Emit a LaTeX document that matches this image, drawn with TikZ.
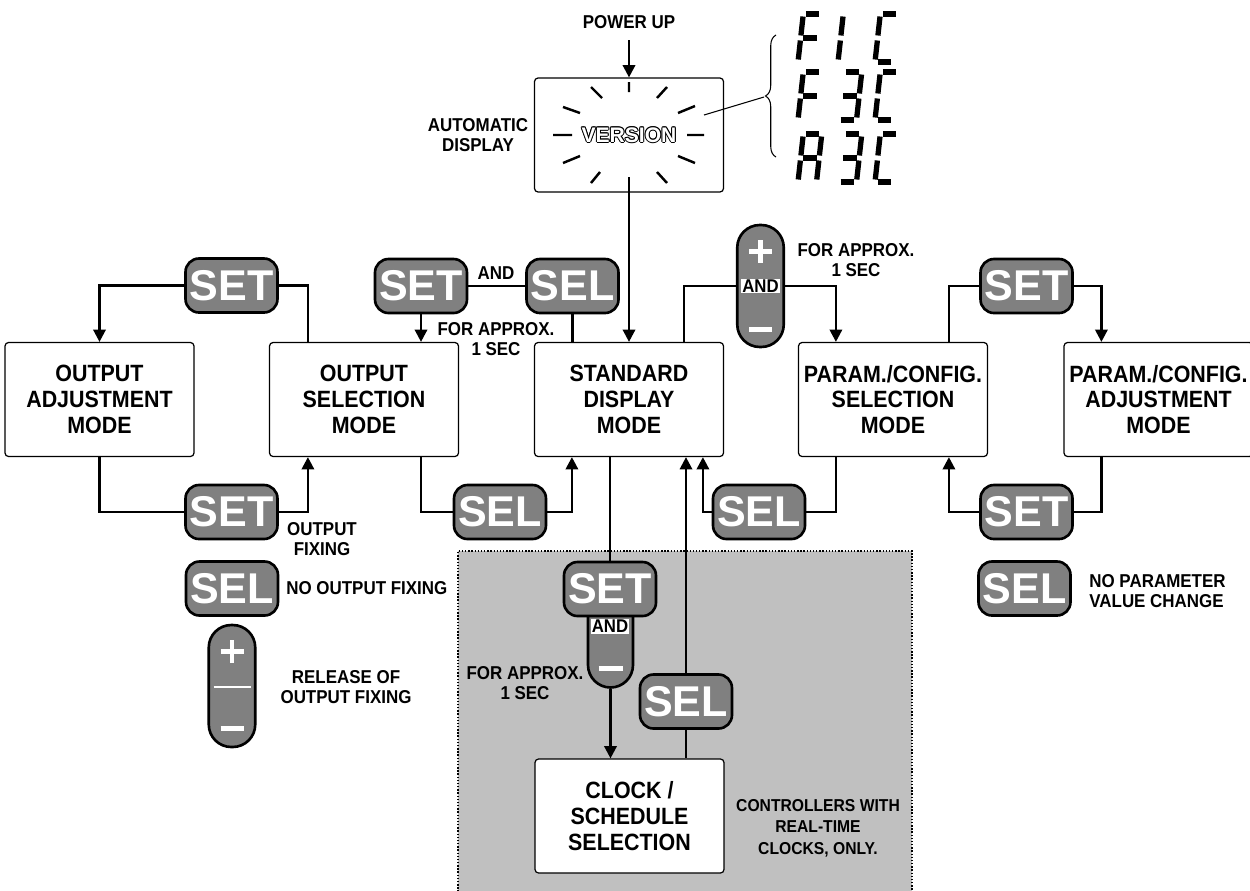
\documentclass[tikz,border=0pt]{standalone}
\usepackage{fontspec}
\setmainfont{Liberation Sans}
\newfontfamily\condfam[FakeStretch=0.91]{Liberation Sans}
\usetikzlibrary{arrows.meta,calc,decorations.pathreplacing}
\definecolor{btngray}{HTML}{808080}
\definecolor{zonegray}{HTML}{C0C0C0}
\newcommand\bxfont{\condfam\bfseries\fontsize{13.4}{14.7}\selectfont}
\newcommand\lbfont{\condfam\bfseries\fontsize{10.6}{11.4}\selectfont}
\newcommand\ctfont{\condfam\bfseries\fontsize{9.8}{12.2}\selectfont}
\newcommand\btfont{\bfseries\fontsize{24.5}{24.5}\selectfont}
\newcommand\andfont{\condfam\bfseries\fontsize{10.5}{10.5}\selectfont}
\newcommand\vsfont{\bfseries\fontsize{12}{12}\selectfont}
\newcommand\lcd[6]{\draw[lcdseg] ({#1+(#3)+0.11*(#4)},{#2-(#4)}) -- ({#1+(#5)+0.11*(#6)},{#2-(#6)});}
\newcommand\lcdA[2]{\lcd{#1}{#2}{2.5}{48}{16}{48}}
\newcommand\lcdB[2]{\lcd{#1}{#2}{18.5}{45.5}{18.5}{26.5}}
\newcommand\lcdC[2]{\lcd{#1}{#2}{18.5}{21.5}{18.5}{2.5}}
\newcommand\lcdD[2]{\lcd{#1}{#2}{2.5}{0}{16}{0}}
\newcommand\lcdE[2]{\lcd{#1}{#2}{0}{21.5}{0}{2.5}}
\newcommand\lcdF[2]{\lcd{#1}{#2}{0}{45.5}{0}{26.5}}
\newcommand\lcdG[2]{\lcd{#1}{#2}{2.5}{24}{16}{24}}
\newcommand\chrF[2]{\lcdA{#1}{#2}\lcdF{#1}{#2}\lcdE{#1}{#2}\lcdG{#1}{#2}}
\newcommand\chrOne[2]{\lcdE{#1}{#2}\lcdF{#1}{#2}}
\newcommand\chrC[2]{\lcdA{#1}{#2}\lcdF{#1}{#2}\lcdE{#1}{#2}\lcdD{#1}{#2}}
\newcommand\chrThree[2]{\lcdA{#1}{#2}\lcdB{#1}{#2}\lcdC{#1}{#2}\lcdD{#1}{#2}\lcdG{#1}{#2}}
\newcommand\chrA[2]{\lcdA{#1}{#2}\lcdB{#1}{#2}\lcdC{#1}{#2}\lcdE{#1}{#2}\lcdF{#1}{#2}\lcdG{#1}{#2}}
\tikzset{
  conn/.style={line width=1.4pt},
  arrowconn/.style={line width=1.4pt,-{Triangle[width=7pt,length=7pt]}},
  modebox/.style={draw,line width=0.7pt,rounded corners=2pt,fill=white,minimum width=3.78cm,minimum height=2.28cm,align=center,inner sep=0pt,font=\bxfont},
  keybtn/.style={draw,line width=1.5pt,fill=btngray,rounded corners=0.27cm,minimum width=1.84cm,minimum height=1.08cm,inner sep=0pt,text=white,font=\btfont},
  pmbtn/.style={draw,line width=1.5pt,fill=btngray,rounded corners=0.45cm,minimum width=0.93cm,minimum height=2.44cm,inner sep=0pt},
  lbl/.style={align=center,inner sep=0pt,font=\lbfont},
  andlbl/.style={fill=white,inner sep=0.6pt,font=\andfont},
  rayline/.style={line width=1.4pt},
  lcdseg/.style={line width=3pt},
  signline/.style={white,line width=2.8pt},
}
\begin{document}
\begin{tikzpicture}[x=0.02cm,y=-0.02cm]
\useasboundingbox (0,0) rectangle (1250,890);
% shaded zone
\fill[zonegray] (458,551) rectangle (912,895);
\draw[densely dotted,line width=0.8pt] (458,895) |- (912,551) -- (912,895);

% mode boxes
\node[modebox] (ver) at (629,135) {};
\node[modebox] (oa) at (99.5,399.5) {OUTPUT\\ADJUSTMENT\\MODE};
\node[modebox] (os) at (364,399.5) {OUTPUT\\SELECTION\\MODE};
\node[modebox] (std) at (629,399.5) {STANDARD\\DISPLAY\\MODE};
\node[modebox] (ps) at (893,399.5) {PARAM./CONFIG.\\SELECTION\\MODE};
\node[modebox] (pa) at (1158.5,399.5) {PARAM./CONFIG.\\ADJUSTMENT\\MODE};
\node[modebox] (clk) at (629.5,816) {CLOCK /\\SCHEDULE\\SELECTION};

% version display
\foreach \dx/\dy [count=\k] in {1/0,-1/0,0/1,0/-1,0.7/0.7,-0.7/0.7,0.7/-0.7,-0.7/-0.7}
  \node[font=\vsfont,inner sep=0pt] (vo\k) at ($(ver.center)+(\dx,\dy)$) {VERSION};
\node[font=\vsfont,text=white,inner sep=0pt] (vtxt) at (ver.center) {VERSION};
\draw[rayline] (629,82)--(629,92) (553,135)--(572,135) (687,135)--(704,135)
  (591,87)--(602,98) (563,107)--(580,113) (657,98)--(667,87) (678,113)--(695,106)
  (563,163)--(580,156) (591,183)--(600,172) (678,156)--(695,163) (657,172)--(667,183);
\coordinate (vb) at (629,177);
\coordinate (pu) at (629,40);
\coordinate (rr) at (704,115);
\coordinate (bt) at (764,97);
\draw[line width=0.6pt,decorate,decoration={brace,amplitude=6pt}] (776,157) -- (776,35);
\draw[line width=0.6pt] (rr) -- (bt);
% seven segment codes
\chrF{798}{62}\chrOne{838}{62}\chrC{875}{62}
\chrF{798}{120}\chrThree{838}{120}\chrC{875}{120}
\chrA{798}{182}\chrThree{838}{182}\chrC{875}{182}

% keys
\node[keybtn] (set1) at (231.5,285.5) {SET};
\node[keybtn] (set2) at (231.5,512) {SET};
\node[keybtn] (set3) at (421,286) {SET};
\node[keybtn] (sel3) at (572.5,286) {SEL};
\node[keybtn] (sel4) at (500,512) {SEL};
\node[keybtn] (sel5) at (759,512) {SEL};
\node[keybtn] (set6) at (1026.5,286) {SET};
\node[keybtn] (set7) at (1026.5,512) {SET};
\node[keybtn] (sel8) at (232,588.5) {SEL};
\node[keybtn] (sel9) at (1024.5,588.5) {SEL};
\node[pmbtn,minimum width=0.9cm,minimum height=1.9cm] (ext) at (610.5,640) {};
\node[keybtn] (setg) at (610,589) {SET};
\node[keybtn] (selg) at (686,701.5) {SEL};
\node[pmbtn] (pm1) at (760.5,286) {};
\node[pmbtn] (pm2) at (232,686) {};

% plus / minus signs
\draw[signline] ($(pm1.north)+(-11.5,28)$) -- ($(pm1.north)+(11.5,28)$)
  ($(pm1.north)+(0,16.5)$) -- ($(pm1.north)+(0,39.5)$);
\draw[signline] ($(pm1.south)+(-11.5,-19)$) -- ($(pm1.south)+(11.5,-19)$);
\draw[signline] ($(pm2.north)+(-11.5,28)$) -- ($(pm2.north)+(11.5,28)$)
  ($(pm2.north)+(0,16.5)$) -- ($(pm2.north)+(0,39.5)$);
\draw[white,line width=0.9pt] ($(pm2.center)+(-18.5,1)$) -- ($(pm2.center)+(18.5,1)$);
\draw[signline] ($(pm2.south)+(-11.5,-20)$) -- ($(pm2.south)+(11.5,-20)$);
\draw[signline] ($(ext.south)+(-12,-20)$) -- ($(ext.south)+(12,-20)$);
\node[andlbl] (and1) at (pm1.center) {AND};
\node[andlbl] (and2) at (610,626.5) {AND};

% labels
\node[lbl] (pwr) at (629,22) {POWER UP};
\node[lbl] (auto) at (478,135) {AUTOMATIC\\DISPLAY};
\node[lbl] (and0) at (496,273) {AND};
\node[lbl] (fa1) at (496,339.5) {FOR APPROX.\\1 SEC};
\node[lbl] (fa2) at (856,260) {FOR APPROX.\\1 SEC};
\node[lbl] (fa3) at (525,683.5) {FOR APPROX.\\1 SEC};
\node[lbl] (ofx) at (322,539.5) {OUTPUT\\FIXING};
\node[lbl,anchor=west] (nofx) at (286,588) {NO OUTPUT FIXING};
\node[lbl] (rel) at (346,687) {RELEASE OF\\OUTPUT FIXING};
\node[lbl,align=left,anchor=west] (npv) at (1089,591.5) {NO PARAMETER\\VALUE CHANGE};
\node[lbl,font=\ctfont] (ctl) at (818,828) {CONTROLLERS WITH\\REAL-TIME\\CLOCKS, ONLY.};

% connectors
\draw[arrowconn] (pu) -- (ver.north);
\draw[arrowconn] (vb) -- (std.north);
\draw[arrowconn] (set1.west) -| (oa.north);
\draw[conn] (set1.east) -| ($(os.north west)+(39,0)$);
\draw[conn] (oa.south) |- (set2.west);
\draw[arrowconn] (set2.east) -| ($(os.south west)+(39,0)$);
\draw[conn] (set3.east) -- (sel3.west);
\draw[arrowconn] (set3.south) -- (set3.south |- os.north);
\draw[conn] (sel3.south) -- (sel3.south |- std.north);
\draw[conn] ($(os.south west)+(152,0)$) |- (sel4.west);
\draw[arrowconn] (sel4.east) -| ($(std.south west)+(38,0)$);
\draw[conn] ($(std.north west)+(150,0)$) |- (pm1.west);
\draw[arrowconn] (pm1.east) -| ($(ps.north west)+(38,0)$);
\draw[conn] ($(ps.north west)+(151,0)$) |- (set6.west);
\draw[arrowconn] (set6.east) -| ($(pa.north west)+(38,0)$);
\draw[conn] ($(pa.south west)+(38,0)$) |- (set7.east);
\draw[arrowconn] (set7.west) -| ($(ps.south west)+(151,0)$);
\draw[conn] ($(ps.south west)+(38,0)$) |- (sel5.east);
\draw[arrowconn] (sel5.west) -| ($(std.south west)+(169,0)$);
\draw[conn] (setg.north |- std.south) -- (setg.north);
\draw[arrowconn] (ext.south) -- (ext.south |- clk.north);
\draw[conn] (selg.south) -- (selg.south |- clk.north);
\draw[arrowconn] (selg.north) -- (selg.north |- std.south);
\end{tikzpicture}
\end{document}
